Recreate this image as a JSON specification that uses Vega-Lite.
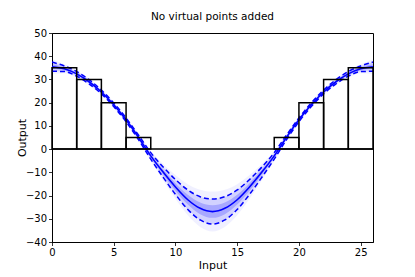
{
  "$schema": "https://vega.github.io/schema/vega-lite/v6.json",
  "width": 321,
  "height": 209,
  "autosize": {"type": "none"},
  "padding": {"left": 52, "top": 33, "right": 42, "bottom": 35},
  "background": "white",
  "title": {"text": "No virtual points added", "fontSize": 10.5, "fontWeight": "normal", "font": "DejaVu Sans", "color": "black", "offset": 6, "anchor": "middle"},
  "config": {
    "view": {"stroke": "black", "strokeWidth": 1},
    "axis": {
      "grid": false,
      "domainColor": "black",
      "domainWidth": 1,
      "tickColor": "black",
      "tickSize": 3.5,
      "tickWidth": 0.8,
      "labelFont": "DejaVu Sans",
      "labelFontSize": 10,
      "labelColor": "black",
      "labelPadding": 2,
      "labelFlush": false,
      "titleFont": "DejaVu Sans",
      "titleFontSize": 11,
      "titleFontWeight": "normal",
      "titleColor": "black"
    }
  },
  "datasets": {
    "curve": [
      {"x": 0, "mean": 35.5, "lo1": 34.5, "hi1": 36.5, "lo2": 33.5, "hi2": 37.5, "lo3": 32.3, "hi3": 38.7},
      {"x": 1, "mean": 34.6, "lo1": 34.0, "hi1": 35.2, "lo2": 33.4, "hi2": 35.8, "lo3": 32.7, "hi3": 36.5},
      {"x": 2, "mean": 32.4, "lo1": 31.9, "hi1": 32.9, "lo2": 31.4, "hi2": 33.4, "lo3": 30.8, "hi3": 34.0},
      {"x": 3, "mean": 29.0, "lo1": 28.6, "hi1": 29.4, "lo2": 28.1, "hi2": 29.9, "lo3": 27.6, "hi3": 30.4},
      {"x": 4, "mean": 24.6, "lo1": 24.2, "hi1": 25.0, "lo2": 23.8, "hi2": 25.4, "lo3": 23.3, "hi3": 25.9},
      {"x": 5, "mean": 19.1, "lo1": 18.7, "hi1": 19.5, "lo2": 18.3, "hi2": 19.9, "lo3": 17.8, "hi3": 20.4},
      {"x": 6, "mean": 12.6, "lo1": 12.2, "hi1": 13.0, "lo2": 11.8, "hi2": 13.4, "lo3": 11.3, "hi3": 13.9},
      {"x": 7, "mean": 5.1, "lo1": 4.6, "hi1": 5.6, "lo2": 4.1, "hi2": 6.1, "lo3": 3.5, "hi3": 6.7},
      {"x": 8, "mean": -2.9, "lo1": -3.6, "hi1": -2.2, "lo2": -4.3, "hi2": -1.5, "lo3": -5.1, "hi3": -0.7},
      {"x": 9, "mean": -9.9, "lo1": -11.0, "hi1": -8.8, "lo2": -12.1, "hi2": -7.7, "lo3": -13.4, "hi3": -6.4},
      {"x": 10, "mean": -16.3, "lo1": -17.9, "hi1": -14.7, "lo2": -19.5, "hi2": -13.1, "lo3": -21.4, "hi3": -11.2},
      {"x": 11, "mean": -21.8, "lo1": -23.9, "hi1": -19.7, "lo2": -26.0, "hi2": -17.6, "lo3": -28.5, "hi3": -15.1},
      {"x": 12, "mean": -25.5, "lo1": -28.0, "hi1": -23.0, "lo2": -30.5, "hi2": -20.5, "lo3": -33.5, "hi3": -17.5},
      {"x": 13, "mean": -26.9, "lo1": -29.6, "hi1": -24.2, "lo2": -32.3, "hi2": -21.5, "lo3": -35.5, "hi3": -18.3},
      {"x": 14, "mean": -25.5, "lo1": -28.0, "hi1": -23.0, "lo2": -30.5, "hi2": -20.5, "lo3": -33.5, "hi3": -17.5},
      {"x": 15, "mean": -21.8, "lo1": -23.9, "hi1": -19.7, "lo2": -26.0, "hi2": -17.6, "lo3": -28.5, "hi3": -15.1},
      {"x": 16, "mean": -16.3, "lo1": -17.9, "hi1": -14.7, "lo2": -19.5, "hi2": -13.1, "lo3": -21.4, "hi3": -11.2},
      {"x": 17, "mean": -9.9, "lo1": -11.0, "hi1": -8.8, "lo2": -12.1, "hi2": -7.7, "lo3": -13.4, "hi3": -6.4},
      {"x": 18, "mean": -2.9, "lo1": -3.6, "hi1": -2.2, "lo2": -4.3, "hi2": -1.5, "lo3": -5.1, "hi3": -0.7},
      {"x": 19, "mean": 5.1, "lo1": 4.6, "hi1": 5.6, "lo2": 4.1, "hi2": 6.1, "lo3": 3.5, "hi3": 6.7},
      {"x": 20, "mean": 12.6, "lo1": 12.2, "hi1": 13.0, "lo2": 11.8, "hi2": 13.4, "lo3": 11.3, "hi3": 13.9},
      {"x": 21, "mean": 19.1, "lo1": 18.7, "hi1": 19.5, "lo2": 18.3, "hi2": 19.9, "lo3": 17.8, "hi3": 20.4},
      {"x": 22, "mean": 24.6, "lo1": 24.2, "hi1": 25.0, "lo2": 23.8, "hi2": 25.4, "lo3": 23.3, "hi3": 25.9},
      {"x": 23, "mean": 29.0, "lo1": 28.6, "hi1": 29.4, "lo2": 28.1, "hi2": 29.9, "lo3": 27.6, "hi3": 30.4},
      {"x": 24, "mean": 32.4, "lo1": 31.9, "hi1": 32.9, "lo2": 31.4, "hi2": 33.4, "lo3": 30.8, "hi3": 34.0},
      {"x": 25, "mean": 34.6, "lo1": 34.0, "hi1": 35.2, "lo2": 33.4, "hi2": 35.8, "lo3": 32.7, "hi3": 36.5},
      {"x": 26, "mean": 35.5, "lo1": 34.5, "hi1": 36.5, "lo2": 33.5, "hi2": 37.5, "lo3": 32.3, "hi3": 38.7}
    ],
    "bars": [
      {"x0": 0, "x1": 2, "h": 35},
      {"x0": 2, "x1": 4, "h": 30},
      {"x0": 4, "x1": 6, "h": 20},
      {"x0": 6, "x1": 8, "h": 5},
      {"x0": 18, "x1": 20, "h": 5},
      {"x0": 20, "x1": 22, "h": 20},
      {"x0": 22, "x1": 24, "h": 30},
      {"x0": 24, "x1": 26, "h": 35}
    ],
    "zero": [{"y": 0}]
  },
  "layer": [
    {
      "data": {"name": "curve"},
      "mark": {"type": "area", "color": "#0000ff", "opacity": 0.06, "interpolate": "monotone", "clip": true},
      "encoding": {
        "x": {"field": "x", "type": "quantitative", "scale": {"domain": [0, 26], "nice": false, "zero": false}, "axis": {"title": "Input", "values": [0, 5, 10, 15, 20, 25], "titlePadding": 2, "labelOverlap": false}},
        "y": {"field": "lo3", "type": "quantitative", "scale": {"domain": [-40, 50], "nice": false}, "axis": {"title": "Output", "values": [-40, -30, -20, -10, 0, 10, 20, 30, 40, 50], "tickCount": 10, "labelOverlap": false, "titlePadding": -2}},
        "y2": {"field": "hi3"}
      }
    },
    {
      "data": {"name": "curve"},
      "mark": {"type": "area", "color": "#0000ff", "opacity": 0.12, "interpolate": "monotone", "clip": true},
      "encoding": {
        "x": {"field": "x", "type": "quantitative"},
        "y": {"field": "lo2", "type": "quantitative"},
        "y2": {"field": "hi2"}
      }
    },
    {
      "data": {"name": "curve"},
      "mark": {"type": "area", "color": "#0000ff", "opacity": 0.2, "interpolate": "monotone", "clip": true},
      "encoding": {
        "x": {"field": "x", "type": "quantitative"},
        "y": {"field": "lo1", "type": "quantitative"},
        "y2": {"field": "hi1"}
      }
    },
    {
      "data": {"name": "curve"},
      "mark": {"type": "line", "color": "#0000ff", "strokeWidth": 1.5, "strokeDash": [5, 3], "interpolate": "monotone", "clip": true},
      "encoding": {
        "x": {"field": "x", "type": "quantitative"},
        "y": {"field": "lo2", "type": "quantitative"}
      }
    },
    {
      "data": {"name": "curve"},
      "mark": {"type": "line", "color": "#0000ff", "strokeWidth": 1.5, "strokeDash": [5, 3], "interpolate": "monotone", "clip": true},
      "encoding": {
        "x": {"field": "x", "type": "quantitative"},
        "y": {"field": "hi2", "type": "quantitative"}
      }
    },
    {
      "data": {"name": "curve"},
      "mark": {"type": "line", "color": "#0000ff", "strokeWidth": 1.6, "interpolate": "monotone", "clip": true},
      "encoding": {
        "x": {"field": "x", "type": "quantitative"},
        "y": {"field": "mean", "type": "quantitative"}
      }
    },
    {
      "data": {"name": "zero"},
      "mark": {"type": "rule", "color": "black", "strokeWidth": 1.5},
      "encoding": {
        "y": {"field": "y", "type": "quantitative"}
      }
    },
    {
      "data": {"name": "bars"},
      "mark": {"type": "rect", "fill": "transparent", "stroke": "black", "strokeWidth": 1.5},
      "encoding": {
        "x": {"field": "x0", "type": "quantitative"},
        "x2": {"field": "x1"},
        "y": {"field": "h", "type": "quantitative"},
        "y2": {"datum": 0}
      }
    }
  ]
}
